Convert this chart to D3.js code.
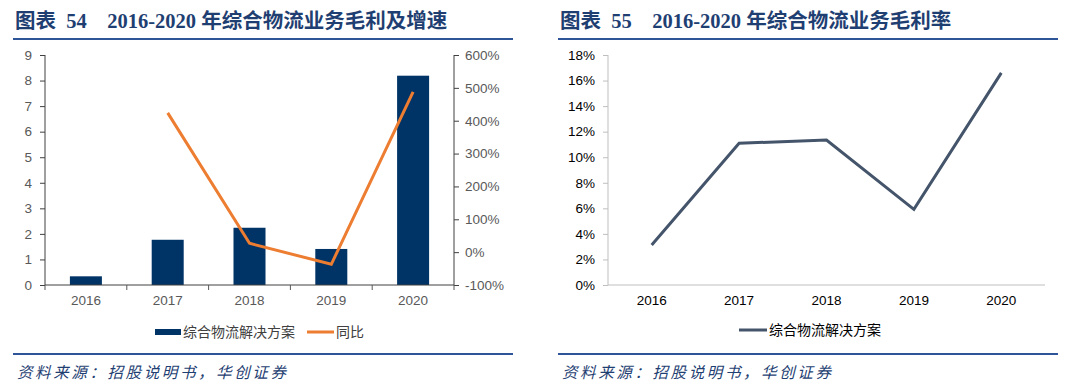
<!DOCTYPE html>
<html>
<head>
<meta charset="utf-8">
<script src="https://d3js.org/d3.v7.min.js"></script>
<style>
  body { margin: 0; background: #fff; }
  svg { display: block; }
  .tick text { font-family: "Liberation Sans", Arial, sans-serif; font-size: 13.5px; fill: #595959; }
  .title { font-family: "Liberation Serif", "Noto Sans CJK SC", serif; font-weight: bold; font-size: 20.5px; fill: #1F3F73; white-space: pre; }
  .src { font-family: "Noto Sans CJK SC", sans-serif; font-style: italic; font-size: 15.5px; fill: #1F3F73; letter-spacing: 2.6px; }
  .leg { font-family: "Noto Sans CJK SC", sans-serif; font-size: 14px; fill: #404040; }
</style>
</head>
<body>
<svg id="viz" width="1080" height="390"></svg>
<script>
// data
var years = ["2016", "2017", "2018", "2019", "2020"]
var grossProfit = [0.34, 1.77, 2.24, 1.41, 8.19]        // 亿元
var yoyGrowth = [null, 4.24, 0.27, -0.37, 4.88]          // 同比
var grossMargin = [0.0313, 0.1109, 0.1135, 0.0592, 0.1660] // 毛利率
var leftTicks = d3.range(0, 10, 1)
var rightTicks = d3.range(-1, 6.01, 1)
var marginTicks = d3.range(0, 0.1801, 0.02)

var svg = d3.select("#viz")

function header(x0, x1, label){
  svg.append("text").attr("class","title").attr("x", x0 + 2).attr("y", 28).text(label)
  svg.append("line").attr("x1", x0).attr("x2", x1).attr("y1", 39).attr("y2", 39)
    .attr("stroke", "#2E5597").attr("stroke-width", 2)
  svg.append("line").attr("x1", x0).attr("x2", x1).attr("y1", 354).attr("y2", 354)
    .attr("stroke", "#2E5597").attr("stroke-width", 2)
  svg.append("text").attr("class","src").attr("x", x0 + 4).attr("y", 378).text("资料来源：招股说明书，华创证券")
}

// ---------- left chart: bars + growth line ----------
header(13, 513, "图表  54    2016-2020 年综合物流业务毛利及增速")

var x1 = d3.scaleBand().domain(years).range([45, 454])
var yL = d3.scaleLinear().domain([0, 9]).range([285, 55])
var yR = d3.scaleLinear().domain([-1, 6]).range([285, 55])

var gL = svg.append("g")

gL.selectAll(".bar")
  .data(years)
  .enter().append("rect")
    .attr("class", "bar")
    .attr("x", function(d){ return x1(d) + x1.bandwidth()/2 - 16 })
    .attr("width", 32)
    .attr("y", function(d, i){ return yL(grossProfit[i]) })
    .attr("height", function(d, i){ return yL(0) - yL(grossProfit[i]) })
    .attr("fill", "#003366")

var growthLine = d3.line()
  .defined(function(d){ return d.v != null })
  .x(function(d){ return x1(d.year) + x1.bandwidth()/2 })
  .y(function(d){ return yR(d.v) })

gL.append("path")
  .datum(years.map(function(y, i){ return {year: y, v: yoyGrowth[i]} }))
  .attr("d", growthLine)
  .attr("fill", "none")
  .attr("stroke", "#ED7D31")
  .attr("stroke-width", 3)

var axL = gL.append("g").attr("transform", "translate(45,0)")
  .call(d3.axisLeft(yL).tickValues(leftTicks).tickSize(5).tickPadding(8).tickFormat(d3.format("d")))
var axR = gL.append("g").attr("transform", "translate(454,0)")
  .call(d3.axisRight(yR).tickValues(rightTicks).tickSize(5).tickPadding(6).tickFormat(function(d){ return Math.round(d*100) + "%" }))
var axB = gL.append("g").attr("transform", "translate(0,285)")
  .call(d3.axisBottom(x1).tickSize(0).tickPadding(10))
// category boundary ticks
axB.selectAll(".sep")
  .data(d3.range(years.length + 1))
  .enter().append("line")
    .attr("class", "sep")
    .attr("x1", function(i){ return 45 + i * x1.step() })
    .attr("x2", function(i){ return 45 + i * x1.step() })
    .attr("y1", 0).attr("y2", 5)
    .attr("stroke", "#595959")
;[axL, axR, axB].forEach(function(a){
  a.select(".domain").attr("stroke", "#404040")
  a.selectAll(".tick line").attr("stroke", "#404040")
})
axL.select(".domain").attr("d", "M0,55V285")
axR.select(".domain").attr("d", "M0,55V285")
axB.select(".domain").attr("d", "M45,0H454")
axB.selectAll(".tick text").attr("dy", "0.71em")

// legend
var lg1 = svg.append("g")
lg1.append("rect").attr("x", 155).attr("y", 329).attr("width", 26).attr("height", 6).attr("fill", "#003366")
lg1.append("text").attr("class","leg").attr("x", 183).attr("y", 337).text("综合物流解决方案")
lg1.append("line").attr("x1", 307).attr("x2", 334).attr("y1", 332).attr("y2", 332).attr("stroke", "#ED7D31").attr("stroke-width", 3)
lg1.append("text").attr("class","leg").attr("x", 336).attr("y", 337).text("同比")

// ---------- right chart: margin line ----------
header(558, 1058, "图表  55    2016-2020 年综合物流业务毛利率")

var x2 = d3.scaleBand().domain(years).range([608, 1045])
var yM = d3.scaleLinear().domain([0, 0.18]).range([285, 55])

var gR = svg.append("g")

var axM = gR.append("g").attr("transform", "translate(608,0)")
  .call(d3.axisLeft(yM).tickValues(marginTicks).tickSize(5).tickPadding(8).tickFormat(function(d){ return Math.round(d*100) + "%" }))
var axB2 = gR.append("g").attr("transform", "translate(0,285)")
  .call(d3.axisBottom(x2).tickSize(0).tickPadding(10))
;[axM, axB2].forEach(function(a){
  a.select(".domain").attr("stroke", "#BFBFBF")
  a.selectAll(".tick line").attr("stroke", "#BFBFBF")
  a.selectAll(".tick text").style("fill", "#000")
})
axM.select(".domain").attr("d", "M0,55V285")
axB2.select(".domain").attr("d", "M608,0H1045")
axB2.selectAll(".tick text").attr("dy", "0.71em")

var marginLine = d3.line()
  .x(function(d){ return x2(d.year) + x2.bandwidth()/2 })
  .y(function(d){ return yM(d.v) })

gR.append("path")
  .datum(years.map(function(y, i){ return {year: y, v: grossMargin[i]} }))
  .attr("d", marginLine)
  .attr("fill", "none")
  .attr("stroke", "#44546A")
  .attr("stroke-width", 3)

var lg2 = svg.append("g")
lg2.append("line").attr("x1", 739).attr("x2", 767).attr("y1", 330).attr("y2", 330).attr("stroke", "#44546A").attr("stroke-width", 3)
lg2.append("text").attr("class","leg").attr("x", 769).attr("y", 335).style("fill", "#000").text("综合物流解决方案")
</script>
</body>
</html>
